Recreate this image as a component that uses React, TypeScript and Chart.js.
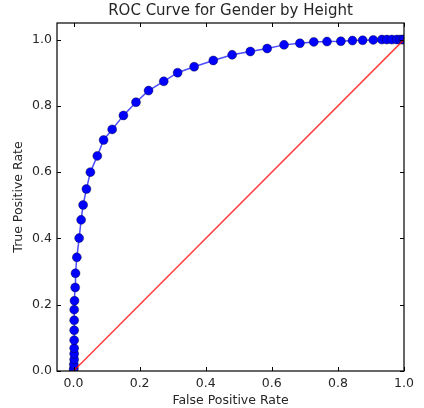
import React, { useEffect, useRef } from "react";
import { Chart, registerables } from "chart.js";

Chart.register(...registerables);

const fprValues = [
  0, 0.001, 0.001, 0.002, 0.002, 0.002, 0.002, 0.002, 0.002, 0.002, 0.003, 0.005,
  0.006, 0.01, 0.017, 0.023, 0.029, 0.039, 0.051, 0.072, 0.091, 0.117, 0.151, 0.189,
  0.227, 0.273, 0.315, 0.365, 0.423, 0.48, 0.535, 0.586, 0.637, 0.685, 0.727, 0.767,
  0.809, 0.844, 0.875, 0.907, 0.933, 0.948, 0.963, 0.978, 0.988, 0.996, 1.0,
];
const tprValues = [
  0, 0.008, 0.02, 0.035, 0.052, 0.069, 0.093, 0.123, 0.153, 0.185, 0.212, 0.252,
  0.295, 0.343, 0.401, 0.456, 0.501, 0.549, 0.6, 0.649, 0.697, 0.729, 0.771, 0.811,
  0.846, 0.874, 0.9, 0.918, 0.937, 0.954, 0.964, 0.973, 0.984, 0.989, 0.993, 0.994,
  0.995, 0.997, 0.998, 0.999, 1.0, 1.0, 1.0, 1.0, 1.0, 1.0, 1.0,
];
const diagonalX = [0, 1];
const diagonalY = [0, 1];
const xTicks = [0, 0.2, 0.4, 0.6, 0.8, 1.0];
const yTicks = [0, 0.2, 0.4, 0.6, 0.8, 1.0];

const FONT = "'DejaVu Sans', sans-serif";
const TEXT = "#262626";

const boxPlugin = {
  id: "boxPlugin",
  afterDraw(chart: any) {
    const { ctx, chartArea } = chart;
    const { left, right, top, bottom } = chartArea;
    const xs = chart.scales.x;
    const ys = chart.scales.y;
    ctx.save();
    ctx.strokeStyle = "#000";
    ctx.lineWidth = 1;
    const tl = 4;
    ctx.beginPath();
    xTicks.forEach((v) => {
      const px = Math.round(xs.getPixelForValue(v)) + 0.5;
      ctx.moveTo(px, bottom);
      ctx.lineTo(px, bottom - tl);
      ctx.moveTo(px, top);
      ctx.lineTo(px, top + tl);
    });
    yTicks.forEach((v) => {
      const py = Math.round(ys.getPixelForValue(v)) + 0.5;
      ctx.moveTo(left, py);
      ctx.lineTo(left + tl, py);
      ctx.moveTo(right, py);
      ctx.lineTo(right - tl, py);
    });
    ctx.stroke();
    ctx.lineWidth = 1.2;
    ctx.strokeRect(left, top, right - left, bottom - top);
    ctx.restore();
  },
};

export default function App() {
  const ref = useRef<HTMLCanvasElement | null>(null);
  useEffect(() => {
    if (!ref.current) return;
    const chart = new Chart(ref.current, {
      type: "scatter",
      data: {
        datasets: [
          {
            label: "diagonal",
            data: diagonalX.map((x, i) => ({ x, y: diagonalY[i] })),
            showLine: true,
            borderColor: "rgba(255,0,0,0.75)",
            borderWidth: 1.5,
            pointRadius: 0,
            order: 0,
          },
          {
            label: "ROC",
            data: fprValues.map((x, i) => ({ x, y: tprValues[i] })),
            showLine: true,
            borderColor: "rgba(0,0,255,0.7)",
            borderWidth: 1.5,
            pointRadius: 4.5,
            pointBackgroundColor: "#0000ff",
            pointBorderColor: "rgba(0,0,0,0.6)",
            pointBorderWidth: 0.6,
            order: 1,
          },
        ],
      },
      options: {
        animation: false,
        responsive: false,
        layout: { padding: { left: 0, right: 20, top: 0, bottom: 0 } },
        plugins: {
          legend: { display: false },
          tooltip: { enabled: false },
          title: {
            display: true,
            fullSize: false,
            text: "ROC Curve for Gender by Height",
            color: TEXT,
            font: { family: FONT, size: 15, weight: "normal" },
            padding: { top: 2, bottom: 3 },
          },
        },
        scales: {
          x: {
            type: "linear",
            min: -0.05,
            max: 1.0,
            afterBuildTicks: (s: any) => {
              s.ticks = xTicks.map((v) => ({ value: v }));
            },
            afterFit: (s: any) => {
              s.height = 37;
            },
            grid: { display: false, drawTicks: false },
            border: { display: false },
            ticks: {
              padding: 5,
              color: TEXT,
              font: { family: FONT, size: 12.5 },
              maxRotation: 0,
              callback: (v: any) => Number(v).toFixed(1),
            },
            title: {
              display: true,
              text: "False Positive Rate",
              color: TEXT,
              font: { family: FONT, size: 12.5 },
              padding: { top: 0, bottom: 0 },
            },
          },
          y: {
            type: "linear",
            min: 0,
            max: 1.05,
            afterBuildTicks: (s: any) => {
              s.ticks = yTicks.map((v) => ({ value: v }));
            },
            afterFit: (s: any) => {
              s.width = 57;
            },
            grid: { display: false, drawTicks: false },
            border: { display: false },
            ticks: {
              padding: 5,
              color: TEXT,
              font: { family: FONT, size: 12.5 },
              callback: (v: any) => Number(v).toFixed(1),
            },
            title: {
              display: true,
              text: "True Positive Rate",
              color: TEXT,
              font: { family: FONT, size: 12.5 },
              padding: { top: 11, bottom: 0 },
            },
          },
        },
      },
      plugins: [boxPlugin],
    } as any);
    return () => chart.destroy();
  }, []);
  return (
    <div style={{ position: "fixed", left: 0, top: 0, width: 424, height: 408, background: "#fff" }}>
      <canvas ref={ref} width={424} height={408} style={{ display: "block" }} />
    </div>
  );
}
